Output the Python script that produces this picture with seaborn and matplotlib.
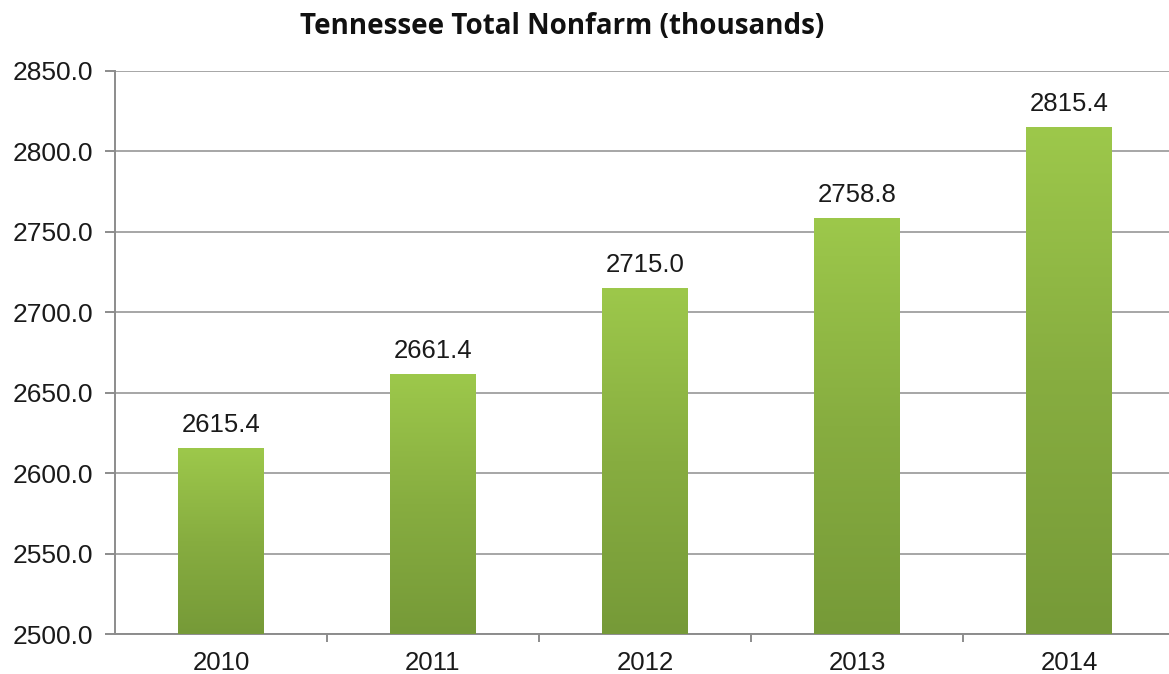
import numpy as np
import pandas as pd
import matplotlib
matplotlib.use("Agg")
import matplotlib.pyplot as plt
import seaborn as sns
from matplotlib.colors import LinearSegmentedColormap

years = ["2010", "2011", "2012", "2013", "2014"]
values = [2615.4, 2661.4, 2715.0, 2758.8, 2815.4]
yticks = [2500, 2550, 2600, 2650, 2700, 2750, 2800, 2850]
title = "Tennessee Total Nonfarm (thousands)"

sns.set_theme(style="white")
plt.rcParams["font.family"] = ["Liberation Sans", "DejaVu Sans"]

fig = plt.figure(figsize=(11.69, 6.74), dpi=100)
ax = fig.add_axes([115 / 1169, 40 / 674, 1060 / 1169, 563 / 674])

df = pd.DataFrame({"year": years, "value": values})
sns.barplot(data=df, x="year", y="value", color="#8db446", width=0.405,
            ax=ax, zorder=3, linewidth=0)

ax.set_ylim(yticks[0], yticks[-1])
ax.set_xlim(-0.5, len(years) - 0.5)

cmap = LinearSegmentedColormap.from_list("g", ["#769a38", "#87ad40", "#9dc84b"])
grad = np.linspace(0, 1, 256).reshape(-1, 1)
for p in ax.patches:
    x0, y0 = p.get_x(), p.get_y()
    w, h = p.get_width(), p.get_height()
    im = ax.imshow(grad, cmap=cmap, aspect="auto", origin="lower",
                   extent=[x0, x0 + w, yticks[0], y0 + h], zorder=3)
    im.set_clip_path(p)
    p.set_facecolor("none")
    ax.annotate(f"{y0 + h:.1f}", (x0 + w / 2, y0 + h), xytext=(0, 8),
                textcoords="offset points", ha="center", va="bottom",
                fontsize=18.5, color="#1a1a1a")

ax.set_ylim(yticks[0], yticks[-1])
ax.set_xlim(-0.5, len(years) - 0.5)

ax.set_yticks(yticks)
ax.set_yticklabels([f"{t:.1f}" for t in yticks], fontsize=19, color="#1a1a1a")
ax.yaxis.grid(True, color="#a6a6a6", linewidth=1.4, zorder=0)
ax.set_axisbelow(True)
ax.tick_params(axis="y", length=7, width=1.4, color="#8c8c8c", direction="out", pad=9, left=True)
ax.set_xticks(range(len(years)))
ax.set_xticklabels(years, fontsize=18.5, color="#1a1a1a")
ax.tick_params(axis="x", which="major", length=0, pad=12)
ax.set_xticks(np.arange(0.5, len(years) - 0.5, 1), minor=True)
ax.tick_params(axis="x", which="minor", length=6, width=1.4, color="#8c8c8c", direction="out", bottom=True)
ax.set_xlabel("")
ax.set_ylabel("")

for s in ["top", "right"]:
    ax.spines[s].set_visible(False)
for s in ["left", "bottom"]:
    ax.spines[s].set_color("#8c8c8c")
    ax.spines[s].set_linewidth(1.4)

fig.text(562 / 1169, 1 - 27 / 674, title, ha="center", va="center",
         fontsize=20, fontweight="bold", family=["Open Sans", "DejaVu Sans"], color="#111111")

fig.savefig("out.png", dpi=100, facecolor="white")
